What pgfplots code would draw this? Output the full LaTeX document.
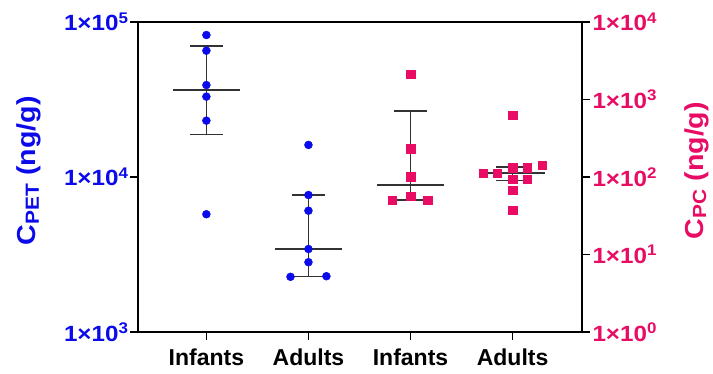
\documentclass[border=0pt]{standalone}
\usepackage{pgfplots}
\pgfplotsset{compat=1.18}
\usepackage{fontspec}
\setmainfont{Liberation Sans}
\setsansfont{Liberation Sans}
\newfontfamily\widefont{Liberation Sans}[FakeStretch=1.1]
\definecolor{cblue}{RGB}{10,10,235}
\definecolor{cpink}{RGB}{232,12,100}
\definecolor{wgray}{RGB}{50,50,50}
\begin{document}
\begin{tikzpicture}
\pgfplotsset{
  base/.style={
    width=444pt, height=310pt, scale only axis,
    at={(0,0)}, anchor=south west,
    xmin=-0.67, xmax=3.68,
    axis line style={line width=1.6pt, black},
    tick style={line width=1.6pt, black},
    major tick length=8pt,
    tick align=outside,
    clip=false,
  },
  medline/.style={wgray, line width=2pt, forget plot},
  whisk/.style={wgray, line width=1.3pt, forget plot},
}
% ---------- left axis: PET ----------
\begin{axis}[base,
  ymode=log, ymin=1e3, ymax=1e5,
  xtick={0,1,2,3},
  xticklabels={Infants,Adults,Infants,Adults},
  xticklabel style={font=\fontsize{23}{24}\selectfont\bfseries, black, yshift=-5pt},
  ytick={1e3,1e4,1e5},
  yticklabels={1×10\textsuperscript{3},1×10\textsuperscript{4},1×10\textsuperscript{5}},
  yticklabel style={font=\widefont\fontsize{22}{23}\selectfont\bfseries, text=cblue, xshift=2pt},
  yminorticks=false,
  xtick pos=bottom, ytick pos=left,
  ylabel={C\kern0.5pt{\fontsize{19}{19}\selectfont\raisebox{-0.3ex}{PET}} (ng/g)},
  ylabel style={font=\widefont\fontsize{26}{27}\selectfont\bfseries, text=cblue, at={(axis description cs:-0.245,0.52)}, anchor=center},
]
% top frame line
\addplot[black, line width=1.6pt, forget plot] coordinates {(-0.67,1e5) (3.68,1e5)};
% Infants PET
\addplot[medline] coordinates {(-0.33,36400) (0.33,36400)};
\addplot[whisk] coordinates {(0,18750) (0,70000)};
\addplot[whisk] coordinates {(-0.16,18750) (0.16,18750)};
\addplot[whisk] coordinates {(-0.16,70000) (0.16,70000)};
% Adults PET
\addplot[medline] coordinates {(0.67,3430) (1.33,3430)};
\addplot[whisk] coordinates {(1,2290) (1,7650)};
\addplot[whisk] coordinates {(0.84,2290) (1.16,2290)};
\addplot[whisk] coordinates {(0.84,7650) (1.16,7650)};
\addplot[only marks, mark=*, mark size=4pt, color=cblue, mark options={draw=cblue, fill=cblue}] coordinates {
  (0,82400) (0,65300) (0,39200) (0,33000) (0,23100) (0,5750)
  (1,16100) (1,7650) (1,6060) (1,3430) (1,2820) (0.824,2270) (1.176,2290)
};
\end{axis}
% ---------- right axis: PC ----------
\begin{axis}[base,
  ymode=log, ymin=1, ymax=1e4,
  axis x line=none,
  axis y line*=right,
  ytick={1,1e1,1e2,1e3,1e4},
  yticklabels={1×10\textsuperscript{0},1×10\textsuperscript{1},1×10\textsuperscript{2},1×10\textsuperscript{3},1×10\textsuperscript{4}},
  yticklabel style={font=\widefont\fontsize{22}{23}\selectfont\bfseries, text=cpink, xshift=-1pt},
  yminorticks=false,
  ylabel={C\kern0.5pt{\fontsize{19}{19}\selectfont\raisebox{-0.3ex}{PC}} (ng/g)},
  ylabel style={font=\widefont\fontsize{26}{27}\selectfont\bfseries, text=cpink, at={(axis description cs:1.258,0.52)}, anchor=center, rotate=0},
]
% Infants PC
\addplot[medline] coordinates {(1.67,78.9) (2.33,78.9)};
\addplot[whisk] coordinates {(2,50.5) (2,711)};
\addplot[whisk] coordinates {(1.84,50.5) (2.16,50.5)};
\addplot[whisk] coordinates {(1.84,711) (2.16,711)};
% Adults PC
\addplot[medline] coordinates {(2.68,112) (3.32,112)};
\addplot[whisk] coordinates {(3,90) (3,135)};
\addplot[whisk] coordinates {(2.84,90) (3.16,90)};
\addplot[whisk] coordinates {(2.84,135) (3.16,135)};
\addplot[only marks, mark=square*, mark size=4.2pt, color=cpink, mark options={draw=cpink, fill=cpink}] coordinates {
  (2,2130) (2,232) (2,101) (2,56.9) (1.82,50.5) (2.17,50.5)
  (3,631) (2.71,112) (2.85,112) (3,132) (3.145,132) (3.29,143) (3,94.2) (3.145,94.2) (3,68) (3,37.5)
};
\end{axis}
\pgfresetboundingbox
\path (-138pt,-42pt) rectangle (575pt,332pt);
\end{tikzpicture}
\end{document}
